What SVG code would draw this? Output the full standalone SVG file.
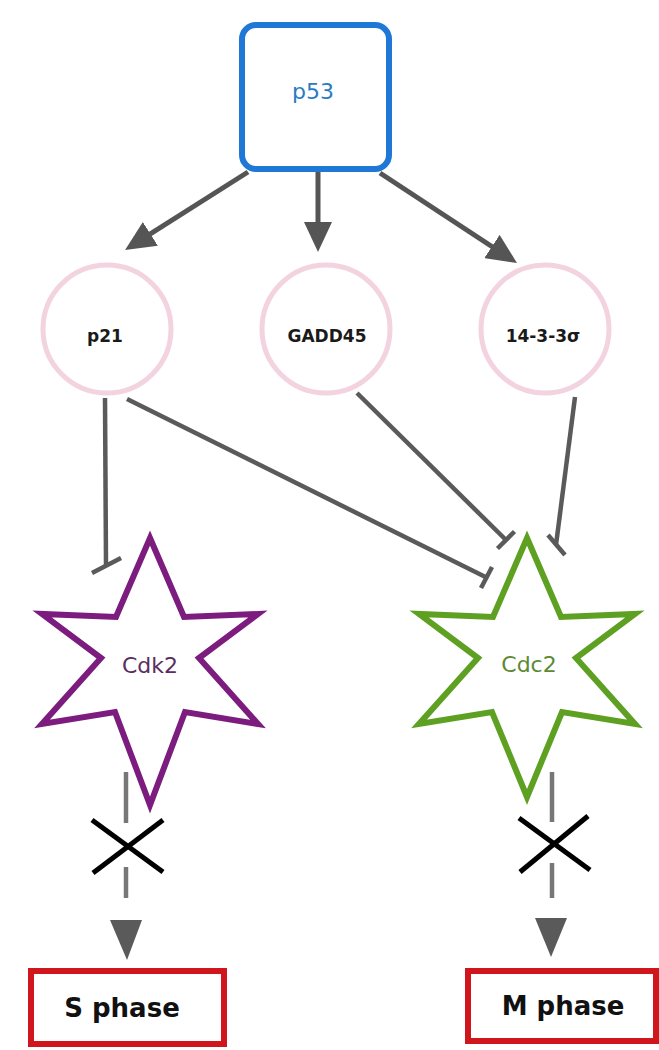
<svg xmlns="http://www.w3.org/2000/svg" width="659" height="1050" viewBox="0 0 659 1050">
<style>
.lbl{font-family:"DejaVu Sans",Verdana,sans-serif;text-anchor:middle}
.circ{fill:none;stroke:#f2d3df;stroke-width:5}
.act{stroke:#555;stroke-width:5;fill:none}
.inh{stroke:#5a5a5a;stroke-width:4.5;fill:none}
.dash{stroke:#777;stroke-width:4.5}
.cross{stroke:#000;stroke-width:5}
.phase{fill:#fff;stroke:#d0151c;stroke-width:6}
.head{fill:#5a5a5a}
</style>
<defs>
<marker id="arr" markerUnits="userSpaceOnUse" markerWidth="30" markerHeight="28" refX="22" refY="14" orient="auto">
<path d="M0,0 L30,14 L0,28 z" fill="#555"/>
</marker>
</defs>
<rect width="659" height="1050" fill="#fff"/>
<g id="connectors">
<line class="act" x1="248" y1="172" x2="131.8" y2="245.7" marker-end="url(#arr)"/>
<line class="act" x1="318" y1="170" x2="318" y2="244" marker-end="url(#arr)"/>
<line class="act" x1="380" y1="173" x2="510.3" y2="258.6" marker-end="url(#arr)"/>
<line class="inh" x1="105" y1="398" x2="106" y2="565"/>
<line class="inh" x1="92" y1="573" x2="121" y2="558"/>
<line class="inh" x1="127" y1="399" x2="486.5" y2="577.5"/>
<line class="inh" x1="481" y1="588" x2="492" y2="567"/>
<line class="inh" x1="357" y1="393" x2="506" y2="540"/>
<line class="inh" x1="497.5" y1="548.5" x2="514.5" y2="531.5"/>
<line class="inh" x1="575" y1="397" x2="556" y2="545"/>
<line class="inh" x1="548" y1="535" x2="565" y2="555"/>
<line class="dash" x1="126" y1="772" x2="126" y2="823"/>
<line class="dash" x1="126" y1="867" x2="126" y2="898"/>
<line class="cross" x1="92" y1="820" x2="163" y2="872"/>
<line class="cross" x1="163" y1="820" x2="93" y2="873"/>
<path class="head" d="M110,920 L142,920 L127,960 z"/>
<line class="dash" x1="552" y1="772" x2="552" y2="822"/>
<line class="dash" x1="552" y1="863" x2="552" y2="898"/>
<line class="cross" x1="519" y1="818" x2="590" y2="870"/>
<line class="cross" x1="588" y1="816" x2="520" y2="872"/>
<path class="head" d="M535,918 L567,918 L551,957 z"/>
</g>
<g id="p53">
<rect x="242" y="25" width="147" height="144" rx="14" fill="#fff" stroke="#1f78d6" stroke-width="6"/>
<text class="lbl" x="313" y="99" font-size="22" fill="#2b7bc4">p53</text>
</g>
<g id="p21">
<circle class="circ" cx="107" cy="329" r="64"/>
<text class="lbl" x="105" y="342" font-size="17" font-weight="bold" fill="#1a1a1a">p21</text>
</g>
<g id="gadd45">
<circle class="circ" cx="326" cy="329" r="64"/>
<text class="lbl" x="327" y="342" font-size="17" font-weight="bold" fill="#1a1a1a">GADD45</text>
</g>
<g id="s1433">
<circle class="circ" cx="545" cy="329" r="64"/>
<text class="lbl" x="543" y="342" font-size="17" font-weight="bold" fill="#1a1a1a">14-3-3σ</text>
</g>
<g id="cdk2">
<polygon points="150,538 184,617 258,614 199,658 258,724 185,712 150,805 115,712 42,724 101,658 42,614 116,617" fill="#fff" stroke="#7b1c7e" stroke-width="6" stroke-linejoin="miter"/>
<text class="lbl" x="150" y="673" font-size="22" fill="#5a2d5e">Cdk2</text>
</g>
<g id="cdc2">
<polygon points="527,538 561,617 635,614 576,658 635,724 562,712 527,797 492,712 419,724 478,658 419,614 493,617" fill="#fff" stroke="#5ea022" stroke-width="6" stroke-linejoin="miter"/>
<text class="lbl" x="529" y="672" font-size="22" fill="#5b8a33">Cdc2</text>
</g>
<g id="sphase">
<rect class="phase" x="31" y="971" width="193" height="73"/>
<text class="lbl" x="122" y="1017" font-size="26" font-weight="bold" fill="#111">S phase</text>
</g>
<g id="mphase">
<rect class="phase" x="468" y="971" width="188" height="70"/>
<text class="lbl" x="563" y="1015" font-size="26" font-weight="bold" fill="#111">M phase</text>
</g>
</svg>
